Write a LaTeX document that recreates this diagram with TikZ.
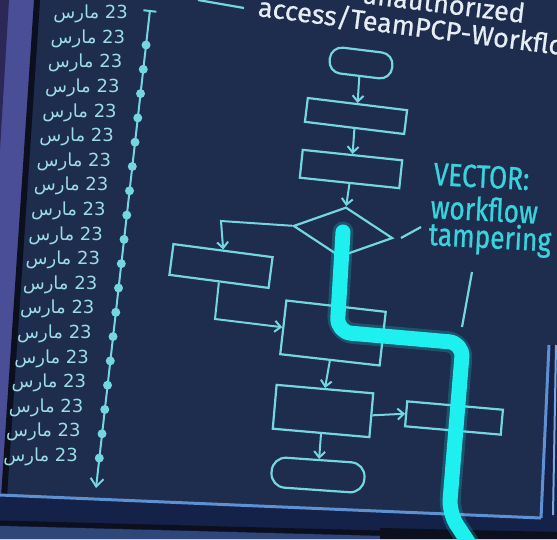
\documentclass[tikz,border=0pt]{standalone}
\usepackage{fontspec}
\setmainfont{Fira Sans}
\newfontfamily\arabicfont[Script=Arabic]{DejaVu Sans}
\newfontfamily\condfont[FakeStretch=0.82,FakeBold=0.8]{Fira Sans}
\newfontfamily\headfont[FakeBold=0.6]{Fira Sans}
\TeXXeTstate=1
\usetikzlibrary{shapes.geometric,arrows.meta}
\definecolor{screen}{HTML}{1E2C4E}
\definecolor{fc}{HTML}{74D6E0}
\definecolor{labc}{HTML}{9CDCE5}
\definecolor{vec}{HTML}{38D4DE}
\definecolor{hot}{HTML}{1EF0F0}
\definecolor{headc}{HTML}{E6EDF4}
\definecolor{bezA}{HTML}{4A4E96}
\definecolor{bezB}{HTML}{2B2858}
\definecolor{edgeblk}{HTML}{0B0F1E}
\definecolor{edgehi}{HTML}{5E90D2}
\definecolor{bezlow}{HTML}{14224A}
\definecolor{bezlow2}{HTML}{2F4678}
\begin{document}
\begin{tikzpicture}[x=1pt,y=-1pt,
  box/.style n args={3}{draw=fc, line width=2.2pt, minimum width=#1, minimum height=#2, inner sep=0pt, rotate=#3},
  term/.style n args={3}{box={#1}{#2}{#3}, rounded corners=12pt},
  flow/.style={draw=fc, line width=2pt, -{Straight Barb[length=6pt,width=11pt]}},
  ptr/.style={draw=fc, line width=2.2pt},
  tl/.style={draw=fc, line width=2pt},
  tdot/.style={circle, fill=fc, minimum size=9pt, inner sep=0pt},
  lab/.style={text=labc, font=\arabicfont\fontsize{18}{20}\selectfont, inner sep=0pt, anchor=east},
  headt/.style={text=headc, font=\headfont\fontsize{27}{31}\selectfont, inner sep=0pt, anchor=base west},
  vect/.style={text=vec, font=\condfont\fontsize{32}{36}\selectfont, inner sep=0pt, anchor=base west, rotate=-3}
]
\useasboundingbox (0,0) rectangle (557,539);
% screen
\fill[screen] (0,0) rectangle (557,539);
% left bezel
\fill[bezA] (0,0) -- (38,0) -- (5,495) -- (0,495) -- cycle;
\fill[bezB] (0,0) -- (9,0) -- (0,150) -- cycle;
\draw[edgeblk, line width=6pt] (37,0) -- (4,497);
% right edge
\fill[bezlow] (549,345) -- (557,345) -- (557,520) -- (541,518) -- cycle;
\draw[edgehi, line width=3pt] (549,345) -- (541,518);
\draw[edgehi!80!white, line width=2pt] (556,345) -- (553,515);
% bottom bezel
\fill[bezlow] (0,495) -- (541,518) -- (557,519) -- (557,539) -- (0,539) -- cycle;
\fill[bezlow2] (0,526) -- (380,536) -- (380,539) -- (0,539) -- cycle;
\draw[edgeblk, line width=5pt] (0,523) -- (380,533);
\fill[edgeblk] (380,528) -- (557,532) -- (557,539) -- (380,539) -- cycle;
\draw[edgehi, line width=3pt] (0,495) -- (541,518);

% heading
\coordinate (t1) at (198,0);
\coordinate (t2) at (244,8);
\draw[ptr] (t1) -- (t2);
\node[headt, rotate=-7] (h1) at (361,3) {unauthorized};
\node[headt, rotate=-7.3] (h2) at (257,16) {access/TeamPCP-Workflow};

% timeline
\coordinate (ttop) at (150,10);
\coordinate (tbot) at (96,488);
\draw[tl, {Bar[width=13pt]}-{Straight Barb[length=8pt,width=13pt]}] (ttop) -- (tbot);
\foreach \i in {1,...,18} {
  \pgfmathsetmacro\yd{45+24.3*(\i-1)}
  \pgfmathsetmacro\xd{150-0.1132*(\yd-10)}
  \node[tdot] (d\i) at (\xd,\yd) {};
}
\foreach \i in {0,...,18} {
  \pgfmathsetmacro\ly{14+24.6*\i}
  \pgfmathsetmacro\lx{128-2.78*\i}
  \node[lab] (l\i) at (\lx,\ly) {\beginR\beginL 23\endL{} مارس\endR};
}

% flowchart
\node[term={63pt}{26pt}{-7}] (st) at (361,63) {};
\node[box={100pt}{24pt}{-7}] (b1) at (356,116) {};
\node[box={100pt}{28pt}{-6}] (b2) at (351,169) {};
\node[draw=fc, line width=2.2pt, diamond, minimum width=100pt, minimum height=50pt, inner sep=0pt, rotate=-7] (dm) at (343,232) {};
\node[box={100pt}{31pt}{-7.5}] (b3) at (221,266) {};
\node[box={100pt}{54pt}{-6.5}] (b4) at (333,333) {};
\node[box={97pt}{44pt}{-5}] (b5) at (323,411) {};
\node[box={96pt}{25pt}{-5}] (b6) at (454,418) {};
\node[term={93pt}{30pt}{-4}, rounded corners=14pt] (en) at (318,475) {};

\coordinate (c1) at (221,221);
\coordinate (c2) at (215,319);
\draw[flow] (st.south) -- (b1.north);
\draw[flow] (b1.south) -- (b2.north);
\draw[flow] (b2.south) -- (dm.north);
\draw[flow] (dm.west) -- (c1) -- (b3.north);
\draw[flow] (b3.south) -- (c2) -- (b4.west);
\draw[flow] (b4.south) -- (b5.north);
\draw[flow] (b5.east) -- (b6.west);
\draw[flow] (b5.south) -- (en.north);

% vector label
\node[vect] (v1) at (433,185) {VECTOR:};
\node[vect] (v2) at (430,218) {workflow};
\node[vect] (v3) at (428,245) {tampering};
\coordinate (q1) at (401,238);
\coordinate (q2) at (421,227);
\coordinate (q3) at (472,272);
\coordinate (q4) at (462,327);
\draw[ptr] (q1) -- (q2);
\draw[ptr] (q3) -- (q4);

% attack path
\coordinate (p0) at (343,232);
\coordinate (p1) at (337,332);
\coordinate (p2) at (463,343);
\coordinate (p3) at (449,513);
\coordinate (p4) at (472,548);
\draw[hot, opacity=0.2, line width=21pt, line cap=round, line join=round, rounded corners=16pt] (p0) -- (p1) -- (p2) -- (p3) -- (p4);
\draw[hot, line width=15pt, line cap=round, line join=round, rounded corners=14pt] (p0) -- (p1) -- (p2) -- (p3) -- (p4);
\end{tikzpicture}
\end{document}
